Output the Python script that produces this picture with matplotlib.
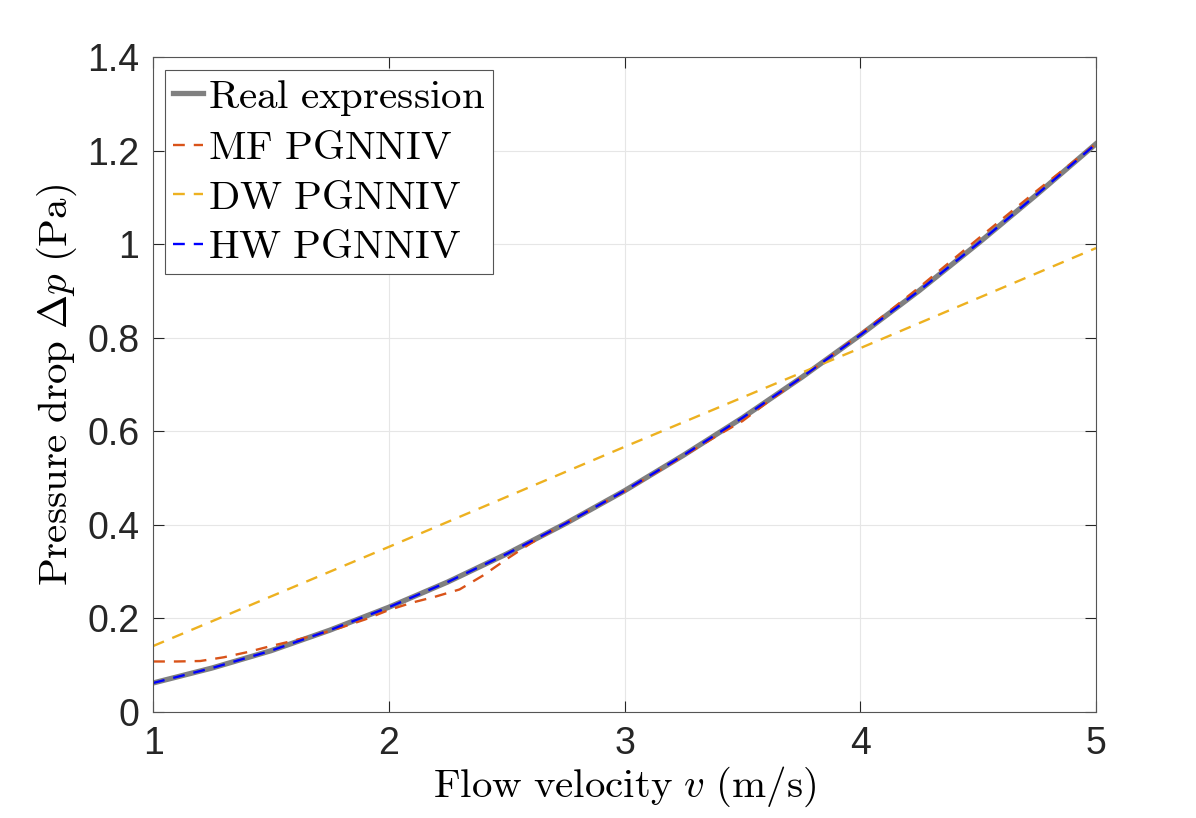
import numpy as np
import matplotlib
matplotlib.use("Agg")
import matplotlib.pyplot as plt

# values
v_real = [1.0, 1.25, 1.5, 1.75, 2.0, 2.25, 2.5, 2.75, 3.0, 3.25, 3.5,
          3.75, 4.0, 4.25, 4.5, 4.75, 5.0]
p_real = [0.062, 0.094, 0.131, 0.175, 0.224, 0.278, 0.338, 0.403, 0.473,
          0.549, 0.629, 0.715, 0.806, 0.901, 1.002, 1.107, 1.215]

v_mf = [1.0, 1.1, 1.2, 1.3, 1.4, 1.5, 1.6, 1.7, 1.8, 1.9, 2.0, 2.1, 2.2,
        2.3, 2.4, 2.5, 2.6, 2.7, 2.8, 3.0, 3.2, 3.4, 3.5, 3.6, 3.8, 4.0,
        4.25, 4.5, 4.75, 5.0]
p_mf = [0.108, 0.108, 0.109, 0.117, 0.128, 0.141, 0.153, 0.166, 0.181,
        0.198, 0.218, 0.234, 0.247, 0.262, 0.292, 0.327, 0.360, 0.390,
        0.417, 0.472, 0.532, 0.593, 0.622, 0.660, 0.733, 0.808, 0.908,
        1.012, 1.115, 1.215]

v_dw = [1.0, 2.0, 3.0, 4.0, 5.0]
p_dw = [0.141, 0.353, 0.567, 0.778, 0.992]

v_hw = v_real
p_hw = [0.062, 0.094, 0.131, 0.175, 0.224, 0.278, 0.338, 0.403, 0.473,
        0.549, 0.629, 0.715, 0.806, 0.901, 1.002, 1.107, 1.215]

plt.rcParams['mathtext.fontset'] = 'cm'
plt.rcParams['font.family'] = ['Liberation Sans', 'DejaVu Sans']

fig = plt.figure(figsize=(11.96, 8.18), dpi=100)
ax = fig.add_axes([0.128, 0.1296, 0.7884, 0.8004])

dash = (0, (5, 3.8))
ax.plot(v_real, p_real, color='#808080', lw=3.8, label=r'$\mathrm{Real\ expression}$')
ax.plot(v_mf, p_mf, color='#D95319', lw=1.7, ls=dash, label=r'$\mathrm{MF\ PGNNIV}$')
ax.plot(v_dw, p_dw, color='#EDB120', lw=1.7, ls=dash, label=r'$\mathrm{DW\ PGNNIV}$')
ax.plot(v_hw, p_hw, color='#0000FF', lw=1.7, ls=dash, label=r'$\mathrm{HW\ PGNNIV}$')

ax.set_xlim(1, 5)
ax.set_ylim(0, 1.4)
ax.set_xticks([1, 2, 3, 4, 5])
ax.set_yticks([0, 0.2, 0.4, 0.6, 0.8, 1.0, 1.2, 1.4])
ax.set_yticklabels(['0', '0.2', '0.4', '0.6', '0.8', '1', '1.2', '1.4'])
ax.tick_params(direction='in', top=True, right=True, length=8, width=0.8,
               labelsize=27, colors='#262626', pad=10)
for s in ax.spines.values():
    s.set_color('#555555')
    s.set_linewidth(0.8)
ax.grid(True, color='#e6e6e6', lw=0.8)
ax.set_axisbelow(True)

ax.set_xlabel(r'$\mathrm{Flow\ velocity}\ v\ \mathrm{(m/s)}$', fontsize=29.5, labelpad=2)
ax.set_ylabel(r'$\mathrm{Pressure\ drop}\ \Delta p\ \mathrm{(Pa)}$', fontsize=29.5, labelpad=6)

leg = ax.legend(loc='upper left', bbox_to_anchor=(0.013, 0.98), fontsize=29.5,
                handlelength=0.75, handletextpad=0.12, labelspacing=0.28,
                borderpad=0.18, borderaxespad=0.0, fancybox=False, framealpha=1)
leg.get_frame().set_edgecolor('#555555')
leg.get_frame().set_linewidth(0.8)

fig.savefig('out.png', dpi=100)
